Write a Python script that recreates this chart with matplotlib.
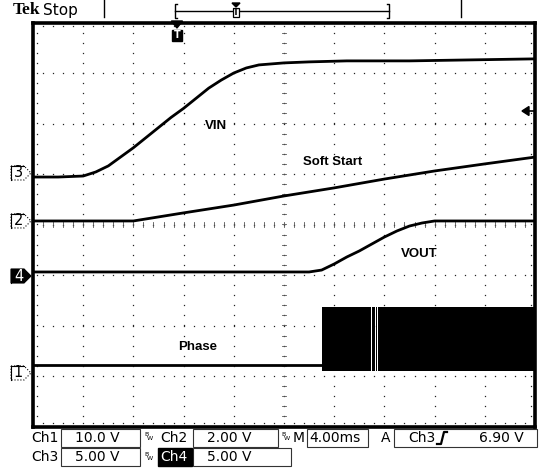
"""Tek scope capture: soft-start of a buck converter (VIN, Soft Start, VOUT, Phase)."""
import matplotlib
matplotlib.use("Agg")
import matplotlib.pyplot as plt
import matplotlib.transforms as mtransforms
from matplotlib.patches import Polygon, Rectangle
import numpy as np

W, H = 547, 468
MS_PER_DIV = 4.0

# channel setup: volts/div and ground marker position (div from centre)
ch_vdiv = {"1": 10.0, "2": 2.0, "3": 5.0, "4": 5.0}
ch_gnd = {"1": -2.94, "2": 0.07, "3": 1.02, "4": -1.02}

# Ch3 - VIN
vin_t = [0, 2, 4, 5, 6, 7, 8, 9, 10, 11, 12, 13, 14, 15, 16, 17, 18, 19, 20, 22, 25, 30, 35, 40]
vin_v = [-0.4, -0.4, -0.3, 0.1, 0.7, 1.6, 2.5, 3.5, 4.5, 5.5, 6.4, 7.4, 8.4, 9.2,
         9.9, 10.4, 10.7, 10.8, 10.9, 11.0, 11.1, 11.1, 11.2, 11.3]

# Ch2 - Soft Start
ss_t = [0, 8, 9, 12, 16, 20, 24, 28, 32, 36, 40]
ss_v = [0.0, 0.0, 0.08, 0.32, 0.63, 0.99, 1.31, 1.66, 1.98, 2.26, 2.53]

# Ch4 - VOUT
vout_t = [0, 22, 23, 24, 25, 26, 27, 28, 29, 30, 31, 32, 40]
vout_v = [0.4, 0.4, 0.59, 1.19, 1.88, 2.48, 3.17, 3.86, 4.46, 4.95, 5.25, 5.45, 5.45]

# Ch1 - Phase (idle level, then switching bursts drawn as an envelope)
phase_t = [0, 23.0]
phase_v = [1.6, 1.6]
phase_bursts = [(23.0, 26.97), (27.05, 27.25), (27.33, 27.42), (27.5, 40.0)]
phase_hi = 13.1
phase_lo = 0.4

trig_t = 11.47

labels = [("VIN", 14.6, 1.95), ("Soft Start", 23.9, 1.24),
          ("VOUT", 30.8, -0.58), ("Phase", 13.1, -2.43)]


def to_div(ch, volts):
    return ch_gnd[ch] + np.asarray(volts) / ch_vdiv[ch]


fig = plt.figure(figsize=(W / 100, H / 100), dpi=100)
fig.patch.set_facecolor("white")

# screen area: 10 x 8 divisions
ax = fig.add_axes([33 / W, 1 - 426.5 / H, 502 / W, 404 / H])
ax.set_xlim(0, 10 * MS_PER_DIV)
ax.set_ylim(-4, 4)
ax.set_xticks([])
ax.set_yticks([])
for sp in ax.spines.values():
    sp.set_linewidth(2.6)
    sp.set_zorder(10)

# graticule dots
dot = dict(ls="none", marker="s", ms=0.9, mew=0, color="#222222", zorder=1)
minor_x = np.arange(0, 10.01, 0.2) * MS_PER_DIV
minor_y = np.arange(-4, 4.01, 0.2)
for k in range(1, 10):
    ax.plot(np.full_like(minor_y, k * MS_PER_DIV), minor_y, **dot)
for j in range(-3, 4):
    ax.plot(minor_x, np.full_like(minor_x, j), **dot)
# border ticks
ax.plot(minor_x, np.full_like(minor_x, 3.93), **dot)
ax.plot(minor_x, np.full_like(minor_x, -3.93), **dot)
ax.plot(np.full_like(minor_y, 0.07 * MS_PER_DIV), minor_y, **dot)
ax.plot(np.full_like(minor_y, 9.93 * MS_PER_DIV), minor_y, **dot)
# centre crosshair ticks
for y in minor_y:
    ax.plot([4.96 * MS_PER_DIV, 5.04 * MS_PER_DIV], [y, y], color="#555555", lw=0.6, zorder=1)
for x in minor_x:
    ax.plot([x, x], [-0.045, 0.045], color="#555555", lw=0.6, zorder=1)

# traces
trace = dict(color="black", lw=2.0, solid_joinstyle="round", solid_capstyle="butt", zorder=3)
ax.plot(vin_t, to_div("3", vin_v), **trace)
ax.plot(ss_t, to_div("2", ss_v), **trace)
ax.plot(vout_t, to_div("4", vout_v), **trace)
ax.plot(phase_t, to_div("1", phase_v), **trace)
for t0, t1 in phase_bursts:
    ax.fill_between([t0, t1], to_div("1", phase_lo), to_div("1", phase_hi),
                    color="black", lw=0, zorder=3)

for txt, tx, ty in labels:
    ax.text(tx, ty, txt, ha="center", va="center", fontsize=9.5, fontweight="bold",
            family="Liberation Sans", zorder=5)

# overlay in pixel coordinates for the scope chrome
ov = fig.add_axes([0, 0, 1, 1], facecolor="none")
ov.set_xlim(0, W)
ov.set_ylim(H, 0)
ov.axis("off")

# channel ground markers (x in pixels, y in screen divisions)
mk_tr = mtransforms.blended_transform_factory(ov.transData, ax.transData)
hh = 7 / 50.5
for ch in ["3", "2", "4", "1"]:
    g = ch_gnd[ch]
    pts = [(11, g + hh), (24, g + hh), (31, g), (24, g - hh), (11, g - hh)]
    active = ch == "4"
    ov.add_patch(Polygon(pts, closed=True, transform=mk_tr, clip_on=False,
                         facecolor="black" if active else "white",
                         edgecolor="black", lw=0.8, ls="-" if active else ":", zorder=6))
    ov.plot([11, 11, 24], [g - hh, g + hh, g + hh], transform=mk_tr, color="black", lw=0.8,
            clip_on=False, zorder=7)
    ov.text(18.5, g, ch, transform=mk_tr, ha="center", va="center", fontsize=10.5,
            color="white" if active else "black", family="DejaVu Sans", zorder=8)

# trigger position marker (x in ms, y in pixels)
tr_tr = mtransforms.blended_transform_factory(ax.transData, ov.transData)
ov.add_patch(Polygon([(trig_t - 0.45, 21), (trig_t + 0.45, 21), (trig_t, 28)], closed=True,
                     transform=tr_tr, color="black", clip_on=False, zorder=11))
ov.add_patch(Rectangle((trig_t - 0.38, 30), 0.76, 11, transform=tr_tr, color="black",
                       clip_on=False, zorder=11))
ov.text(trig_t, 35.5, "T", transform=tr_tr, ha="center", va="center", color="white",
        fontsize=7, fontweight="bold", zorder=12)

# trigger level arrow on right edge
ov.add_patch(Polygon([(522, 111), (529, 106.5), (529, 115.5)], closed=True, color="black", zorder=11))
ov.plot([528, 534], [111, 111], color="black", lw=1.2, zorder=11)

# top status bar
ov.text(13, 10, "Tek", fontsize=12.5, fontweight="bold", family="Liberation Serif", va="center")
ov.text(43, 10, "Stop", fontsize=11, family="DejaVu Sans", va="center")
for x in (104, 461):
    ov.plot([x, x], [0, 17], color="black", lw=1.0)
ov.plot([175, 389], [11, 11], color="black", lw=1.0)
ov.plot([177, 175, 175, 177], [4, 4, 18, 18], color="black", lw=1.0)
ov.plot([387, 389, 389, 387], [4, 4, 18, 18], color="black", lw=1.0)
ov.add_patch(Polygon([(232, 3), (240, 3), (236, 7)], closed=True, color="black"))
ov.add_patch(Rectangle((233, 8), 6, 9, facecolor="white", edgecolor="black", lw=0.9, zorder=5))
ov.text(236, 12.5, "T", ha="center", va="center", fontsize=6, fontweight="bold", zorder=6)

# bottom status bar
r1, r2 = 438, 457
sfont = dict(fontsize=10, family="DejaVu Sans", va="center")
for x0, x1, y0, y1 in [(61, 140, 429, 447), (193, 278, 429, 447), (307, 368, 429, 447),
                       (394, 537, 429, 447), (61, 140, 448, 466), (193, 291, 448, 466)]:
    ov.add_patch(Rectangle((x0, y0), x1 - x0, y1 - y0, fill=False, edgecolor="#333333", lw=0.8))
ov.add_patch(Rectangle((158, 448), 34, 18, color="black"))

ov.text(31, r1, "Ch1", **sfont)
ov.text(75, r1, "10.0 V", **sfont)
ov.text(160, r1, "Ch2", **sfont)
ov.text(207, r1, "2.00 V", **sfont)
ov.text(293, r1, "M", **sfont)
ov.text(309, r1, "4.00ms", **sfont)
ov.text(381, r1, "A", **sfont)
ov.text(408, r1, "Ch3", **sfont)
ov.plot([437, 441, 444, 447], [444, 444, 432, 432], color="black", lw=1.6)
ov.text(479, r1, "6.90 V", **sfont)

ov.text(31, r2, "Ch3", **sfont)
ov.text(75, r2, "5.00 V", **sfont)
ov.text(160, r2, "Ch4", color="white", **sfont)
ov.text(207, r2, "5.00 V", **sfont)

for bx, by in [(144, r1), (281, r1), (144, r2)]:
    ov.text(bx, by - 3, "B", fontsize=4.5, va="center")
    ov.text(bx + 3, by + 1, "W", fontsize=4.5, va="center")

fig.savefig("out.png", dpi=100, facecolor="white")
